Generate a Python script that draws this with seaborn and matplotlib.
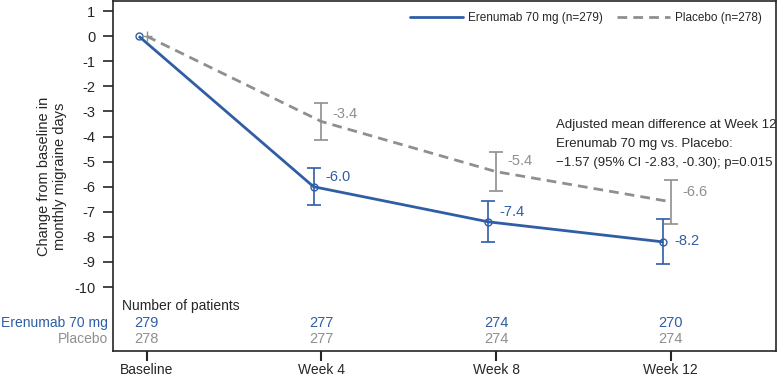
import numpy as np
import pandas as pd
import matplotlib
matplotlib.use("Agg")
import matplotlib.pyplot as plt
import seaborn as sns
from matplotlib.lines import Line2D

# data
visits = ["Baseline", "Week 4", "Week 8", "Week 12"]
erenumab_mean = [0.0, -6.0, -7.4, -8.2]
erenumab_err = [0.0, 0.73, 0.82, 0.90]
placebo_mean = [0.0, -3.4, -5.4, -6.6]
placebo_err = [0.0, 0.72, 0.78, 0.88]
erenumab_n = [279, 277, 274, 270]
placebo_n = [278, 277, 274, 274]

blue = "#2f5ea5"
grey = "#8f8f8f"

sns.set_style("ticks")
plt.rcParams['font.family'] = ['Liberation Sans', 'DejaVu Sans']

x = np.arange(len(visits))
shift = 0.045
df = pd.DataFrame({
    "x": np.concatenate([x - shift, x]),
    "y": erenumab_mean + placebo_mean,
    "grp": ["Erenumab 70 mg (n=279)"] * 4 + ["Placebo (n=278)"] * 4,
})

fig = plt.figure(figsize=(7.78, 3.77), dpi=100)
ax = fig.add_axes([0.145, 0.069, 0.852, 0.928])

sns.lineplot(data=df, x="x", y="y", hue="grp", style="grp",
             palette=[blue, grey], dashes=[(1, 0), (3.5, 2.2)], markers=False,
             linewidth=2, ax=ax, legend=False)

# error bars
ax.errorbar(x[1:] - shift, erenumab_mean[1:], yerr=erenumab_err[1:], fmt="none",
            ecolor=blue, elinewidth=1.2, capsize=5, capthick=1.2)
ax.errorbar(x[1:], placebo_mean[1:], yerr=placebo_err[1:], fmt="none",
            ecolor=grey, elinewidth=1.2, capsize=5, capthick=1.2)
ax.plot(x - shift, erenumab_mean, linestyle="none", marker="o", ms=5,
        mfc="none", mec=blue, mew=1)
ax.plot(x[:1], placebo_mean[:1], linestyle="none", marker="+", ms=7,
        mec=grey, mew=1)

# value labels
for i in range(1, 4):
    ax.text(x[i] - shift + 0.065, erenumab_mean[i] + [0, 0.37, 0.38, 0.04][i],
            f"{erenumab_mean[i]:.1f}", color=blue, fontsize=10.5, va="center")
    ax.text(x[i] + 0.065, placebo_mean[i] + [0, 0.3, 0.44, 0.38][i],
            f"{placebo_mean[i]:.1f}", color=grey, fontsize=10.5, va="center")

# legend
handles = [Line2D([], [], color=blue, lw=2),
           Line2D([], [], color=grey, lw=2, ls=(0, (3.5, 2.2)))]
ax.legend(handles, ["Erenumab 70 mg (n=279)", "Placebo (n=278)"], ncol=2,
          frameon=False, loc="upper right", bbox_to_anchor=(0.995, 1.0),
          fontsize=8.5, handlelength=4.5, columnspacing=1.2, handletextpad=0.4)

ax.text(2.34, -3.53, "Adjusted mean difference at Week 12", fontsize=9.5, va="center")
ax.text(2.34, -4.29, "Erenumab 70 mg vs. Placebo:", fontsize=9.5, va="center")
ax.text(2.34, -5.04, "\u22121.57 (95% CI -2.83, -0.30); p=0.015", fontsize=9.5, va="center")

# number of patients
ax.text(-0.14, -10.75, "Number of patients", fontsize=10, va="center")
for i in range(4):
    ax.text(x[i], -11.43, str(erenumab_n[i]), color=blue, fontsize=10.5,
            ha="center", va="center")
    ax.text(x[i], -12.06, str(placebo_n[i]), color=grey, fontsize=10.5,
            ha="center", va="center")
ax.text(-0.22, -11.43, "Erenumab 70 mg", color=blue, fontsize=10,
        ha="right", va="center", clip_on=False)
ax.text(-0.22, -12.06, "Placebo", color=grey, fontsize=10,
        ha="right", va="center", clip_on=False)

ax.set_xlim(-0.194, 3.6)
ax.set_ylim(-12.55, 1.4)
ax.set_xticks(x)
ax.set_xticklabels(visits, fontsize=10)
ax.set_yticks(np.arange(-10, 2, 1))
ax.set_yticklabels([str(v) for v in range(-10, 2)], fontsize=10.5)
ax.tick_params(axis="y", length=7.5, width=1.2, pad=5)
ax.tick_params(axis="x", length=7, width=1.5, pad=1.5)
ax.set_xlabel("")
ax.set_ylabel("Change from baseline in\nmonthly migraine days", fontsize=10.5,
              labelpad=5)
for s in ax.spines.values():
    s.set_visible(True)
    s.set_linewidth(1.2)

fig.savefig("out.png", dpi=100)
